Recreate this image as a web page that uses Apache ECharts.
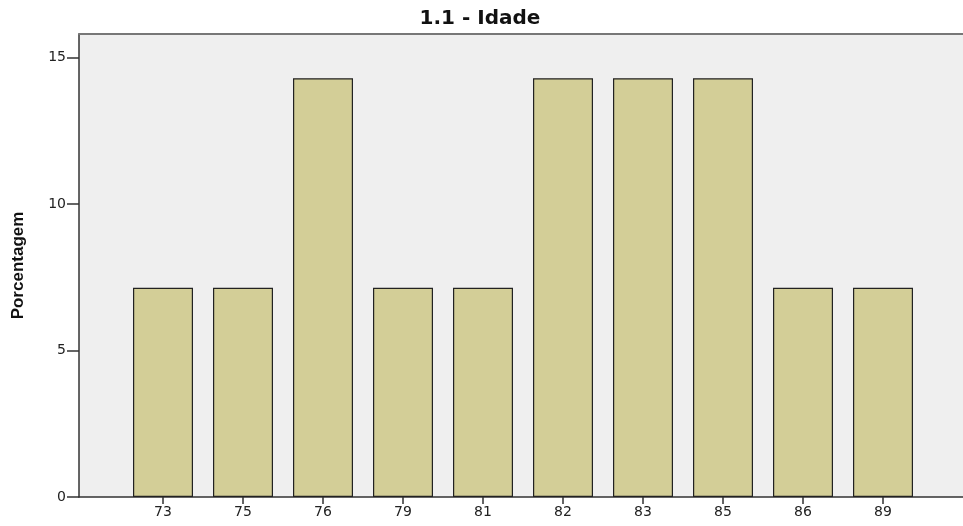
<!DOCTYPE html>
<html>
<head>
<meta charset="utf-8">
<script src="https://cdn.jsdelivr.net/npm/echarts@6/dist/echarts.min.js"></script>
<style>
  html, body { margin: 0; padding: 0; background: #fff; }
  #dv { width: 963px; height: 526px; }
</style>
</head>
<body>
<div id="dv"></div>
<script>
// idades (categorias) e porcentagens
var idades = ['73', '75', '76', '79', '81', '82', '83', '85', '86', '89']
var porcentagem = [7.14, 7.14, 14.29, 7.14, 7.14, 14.29, 14.29, 14.29, 7.14, 7.14]
var yTicks = [0, 5, 10, 15]

var chartDom = document.getElementById('dv');
var myChart = echarts.init(chartDom);
var option;

var posicoes = idades.map(function (c, i) { return i })
var barData = porcentagem.map(function (v, i) { return [i, v] })

option = {
    animation: false,
    textStyle: { fontFamily: 'DejaVu Sans, sans-serif' },
    title: {
        text: '1.1 - Idade',
        left: 475,
        textAlign: 'center',
        top: 4,
        textStyle: { fontSize: 20, fontWeight: 'bold', color: '#111', fontFamily: 'DejaVu Sans' }
    },
    grid: {
        left: 79,
        right: 0,
        top: 34,
        bottom: 29,
        show: true,
        backgroundColor: '#efefef',
        borderWidth: 0
    },
    xAxis: [{
        type: 'value',
        min: -1.05,
        max: 10,
        splitLine: { show: false },
        axisLine: { show: true, onZero: false, lineStyle: { color: '#333', width: 1.5 } },
        axisTick: { show: true, customValues: posicoes, length: 7, lineStyle: { color: '#333', width: 1.5 } },
        axisLabel: {
            customValues: posicoes,
            color: '#222',
            fontSize: 14,
            margin: 8,
            formatter: function (v) { return idades[Math.round(v)] }
        }
    }, {
        type: 'value',
        position: 'top',
        min: -1.05,
        max: 10,
        splitLine: { show: false },
        axisLine: { show: true, onZero: false, lineStyle: { color: '#777', width: 2 } },
        axisTick: { show: false },
        axisLabel: { show: false }
    }],
    yAxis: [{
        type: 'value',
        min: 0,
        max: 15.8,
        interval: 5,
        name: 'Porcentagem',
        nameLocation: 'middle',
        nameGap: 52,
        nameRotate: 90,
        nameTextStyle: { fontSize: 17, fontWeight: 'bold', color: '#111', fontFamily: 'Liberation Sans' },
        splitLine: { show: false },
        axisLine: { show: true, onZero: false, lineStyle: { color: '#333', width: 1.5 } },
        axisTick: { show: true, customValues: yTicks, length: 12, lineStyle: { color: '#333', width: 1.5 } },
        axisLabel: {
            customValues: yTicks,
            color: '#222',
            fontSize: 14,
            margin: 13
        }
    }],
    series: [{
        type: 'bar',
        xAxisIndex: 0,
        barWidth: 60,
        data: barData,
        itemStyle: {
            color: '#d3ce97',
            borderColor: '#222',
            borderWidth: 1.2
        }
    }]
};

option && myChart.setOption(option);
</script>
</body>
</html>
